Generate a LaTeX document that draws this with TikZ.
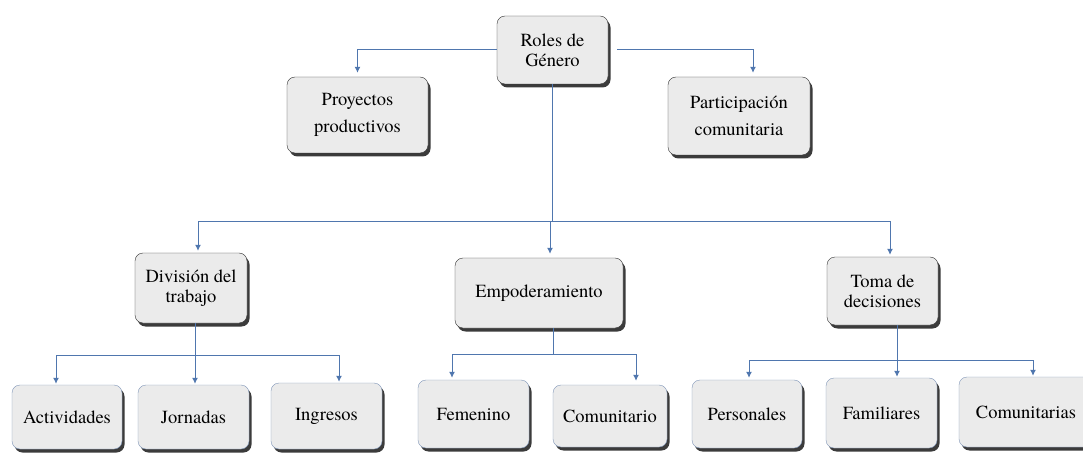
\documentclass[tikz,border=0pt]{standalone}
\usepackage{fontspec}
\setmainfont{TeX Gyre Termes}
\usetikzlibrary{arrows.meta,shadows}
\definecolor{linkblue}{HTML}{4F76AE}
\definecolor{edgeblue}{HTML}{8096B8}
\begin{document}
\begin{tikzpicture}[x=1pt, y=-1pt,
    box/.style={draw=black!80, fill=black!8, rounded corners=8pt, align=center,
      font=\fontsize{18.5}{20}\selectfont, inner sep=0pt,
      drop shadow={shadow xshift=2.5pt, shadow yshift=-3.5pt, fill=black!85, opacity=0.9}},
    leaf/.style={box, draw=edgeblue},
    link/.style={draw=linkblue, line width=1pt},
    arrow/.style={link, -{Latex[length=6pt,width=6pt]}, shorten >=4pt}]
  \useasboundingbox (0, 0) rectangle (1083, 454) ;
  % top
  \node[box, minimum width=111pt, minimum height=68pt] (roles) at (552.5, 50) {Roles de\\Género} ;
  \node[box, minimum width=141pt, minimum height=76pt, font=\fontsize{18.5}{27}\selectfont] (proy) at (357.5, 115) {Proyectos\\productivos} ;
  \node[box, minimum width=142pt, minimum height=78pt, font=\fontsize{18.5}{27}\selectfont] (part) at (739, 116) {Participación\\comunitaria} ;
  \draw[arrow] (roles.west) -| (proy.north) ;
  \draw[arrow] ([xshift=9pt]roles.east) -| ([xshift=14pt]part.north) ;
  % middle
  \node[box, minimum width=112pt, minimum height=70pt] (div) at (191, 288) {División del\\trabajo} ;
  \node[box, minimum width=168pt, minimum height=70pt] (emp) at (539, 293) {Empoderamiento} ;
  \node[box, minimum width=111pt, minimum height=68pt] (toma) at (882.5, 291) {Toma de\\decisiones} ;
  \coordinate (j0) at (551, 222) ;
  \draw[link] (roles.south) -- (roles.south |- j0) ;
  \draw[arrow, shorten >=2pt] (j0) -| ([xshift=7pt]div.north) ;
  \draw[arrow, shorten >=4pt] (j0) -| ([xshift=11pt]emp.north) ;
  \draw[arrow, shorten >=2pt] (j0) -| ([xshift=7.5pt]toma.north) ;
  % bottom
  \node[leaf, minimum width=110pt, minimum height=64pt] (act) at (67, 417) {Actividades} ;
  \node[leaf, minimum width=111pt, minimum height=64pt] (jor) at (193.5, 417) {Jornadas} ;
  \node[leaf, minimum width=111pt, minimum height=66pt] (ing) at (326.5, 416) {Ingresos} ;
  \node[leaf, minimum width=111pt, minimum height=68pt] (fem) at (473.5, 414) {Femenino} ;
  \node[leaf, minimum width=114pt, minimum height=62pt] (com) at (610, 416) {Comunitario} ;
  \node[leaf, minimum width=110pt, minimum height=68pt] (pers) at (747, 414) {Personales} ;
  \node[leaf, minimum width=111pt, minimum height=70pt] (fam) at (881.5, 413) {Familiares} ;
  \node[leaf, minimum width=134pt, minimum height=70pt] (comu) at (1026, 412) {Comunitarias} ;
  \coordinate (j1) at (195, 355) ;
  \coordinate (j2) at (553, 354) ;
  \coordinate (j3) at (897, 360) ;
  \draw[link] (div.south -| j1) -- (j1) ;
  \draw[arrow, shorten >=1pt] (j1) -| ([xshift=-11pt]act.north) ;
  \draw[arrow, shorten >=1pt] (j1) -| ([xshift=1.5pt]jor.north) ;
  \draw[arrow, shorten >=1pt] (j1) -| ([xshift=12.5pt]ing.north) ;
  \draw[link] (emp.south -| j2) -- (j2) ;
  \draw[arrow, shorten >=2pt] (j2) -| ([xshift=-21.5pt]fem.north) ;
  \draw[arrow, shorten >=4pt] (j2) -| ([xshift=26pt]com.north) ;
  \draw[link] (toma.south -| j3) -- (j3) ;
  \draw[arrow, shorten >=2pt] (j3) -| ([xshift=2pt]pers.north) ;
  \draw[arrow, shorten >=1pt] (j3) -| ([xshift=15.5pt]fam.north) ;
  \draw[arrow, shorten >=1pt] (j3) -| ([xshift=7pt]comu.north) ;
\end{tikzpicture}
\end{document}
